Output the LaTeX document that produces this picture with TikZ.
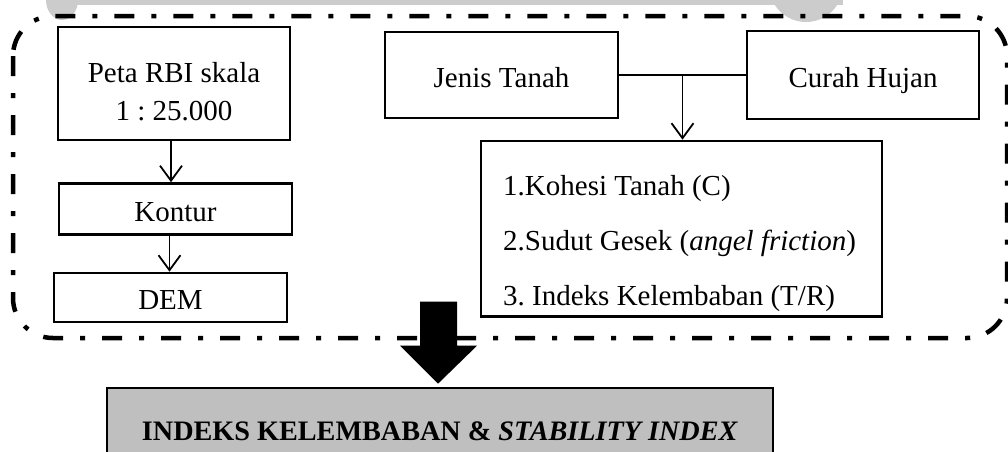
\documentclass[tikz,border=0pt]{standalone}
\usepackage{fontspec}
\setmainfont{Liberation Serif}
\usetikzlibrary{arrows.meta,calc}
\definecolor{wm}{gray}{0.8}
\frenchspacing
\begin{document}
\begin{tikzpicture}[x=1pt,y=-1pt,
  box/.style={draw, line width=2.6pt, inner sep=0pt, font=\fontsize{29}{38}\selectfont},
  onebox/.style={box, text height=24pt, text depth=0pt},
  link/.style={line width=1.8pt},
  flow/.style={link, -{Straight Barb[length=15pt,width=22pt]}},
  group/.style={line width=4.5pt, dash pattern=on 20pt off 17pt on 5pt off 17pt, rounded corners=40pt},
  listtext/.style={anchor=base west, inner sep=0pt, font=\fontsize{29}{29}\selectfont},
]
\useasboundingbox (0,0) rectangle (1008,451);
\clip (0,0) rectangle (1008,451);

% faint logo edge along the top
\fill[wm] (47,0) rectangle (843,5);
\fill[wm] (62,0) ellipse [x radius=16pt, y radius=20pt];
\fill[wm] (806,-15) circle [radius=37pt];

% dash-dot frame around the inputs
\draw[group] (13,16) rectangle (1007,338);

% left column
\node[box, align=center, minimum width=232pt, minimum height=113pt,
      text height=73pt, text depth=0pt] (rbi) at (174,83.5) {Peta RBI skala\\1 : 25.000};
\node[onebox, minimum width=233pt, minimum height=51pt] (kontur) at (175.5,209) {Kontur};
\node[onebox, minimum width=233pt, minimum height=49pt] (dem) at (170.5,297.5) {DEM};

% right column
\node[onebox, minimum width=233pt, minimum height=86pt] (jt) at (501.5,75) {Jenis Tanah};
\node[onebox, minimum width=232pt, minimum height=88pt] (ch) at (863,75) {Curah Hujan};
\node[box, minimum width=401pt, minimum height=175.5pt] (params) at (681.5,228.75) {};
\node[listtext] (p1) at (503,195) {1.Kohesi Tanah (C)};
\node[listtext] (p2) at (503,250) {2.Sudut Gesek (\textit{angel friction})};
\node[listtext] (p3) at (503,305) {3. Indeks Kelembaban (T/R)};

% result
\node[box, fill=black!25, minimum width=666pt, minimum height=82pt,
      text height=23pt, text depth=0pt,
      font=\bfseries\fontsize{28.2}{30}\selectfont] (result) at (440,429)
      {INDEKS KELEMBABAN \& \textit{STABILITY INDEX}};

% connectors
\draw[flow] ([xshift=-3pt]rbi.south) -- ([xshift=-3pt]rbi.south |- kontur.north);
\draw[flow] ([xshift=-6pt]kontur.south) -- ([xshift=-6pt]kontur.south |- dem.north);
\coordinate (j) at ($(jt.east)!0.5!(ch.west)$);
\draw[link] (jt.east) -- (ch.west);
\draw[flow] (j) -- (j |- params.north);

% block arrow into the result
\coordinate (tip) at ($(result.north)+(-2,-3)$);
\fill (tip) -- ++(-38,-38) -- ++(20,0) -- ++(0,-44) -- ++(37,0) -- ++(0,44) -- ++(20,0) -- cycle;
\end{tikzpicture}
\end{document}
